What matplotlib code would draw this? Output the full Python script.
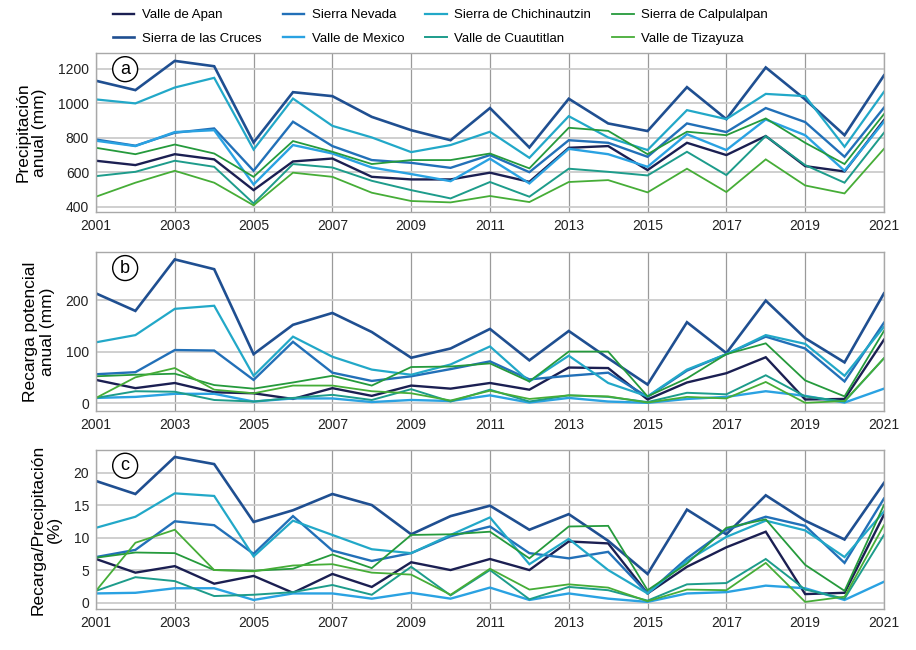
import matplotlib
matplotlib.use("Agg")
import matplotlib.pyplot as plt

plt.rcParams["font.family"] = ["Liberation Sans", "DejaVu Sans"]

# ---------------------------------------------------------------------------
# Data
# ---------------------------------------------------------------------------
years = list(range(2001, 2022))

# (a) Precipitacion anual [mm]
apan_prec = [666, 641, 704, 674, 496, 662, 679, 573, 558, 558, 597, 544, 741, 751, 612, 770, 699, 809, 635, 604, 901]
cruces_prec = [1129, 1075, 1244, 1213, 772, 1063, 1040, 920, 843, 785, 971, 743, 1025, 882, 838, 1092, 907, 1206, 1021, 814, 1160]
nevada_prec = [789, 753, 828, 853, 608, 892, 751, 670, 654, 625, 699, 600, 785, 770, 689, 882, 832, 971, 890, 689, 973]
mexico_prec = [782, 751, 832, 843, 529, 757, 708, 627, 589, 548, 678, 535, 735, 704, 631, 820, 728, 905, 814, 608, 892]
chich_prec = [1021, 998, 1090, 1146, 731, 1026, 868, 801, 716, 757, 834, 683, 924, 801, 728, 959, 907, 1053, 1040, 747, 1065]
cuaut_prec = [577, 602, 666, 631, 419, 647, 627, 550, 496, 448, 543, 458, 620, 602, 581, 718, 583, 809, 641, 539, 828]
calp_prec = [741, 704, 760, 708, 573, 780, 718, 647, 670, 670, 708, 622, 857, 839, 704, 834, 814, 911, 770, 647, 936]
tiz_prec = [458, 539, 608, 539, 408, 597, 573, 481, 433, 425, 462, 427, 543, 554, 483, 620, 485, 674, 523, 477, 735]

# (b) Recarga potencial anual [mm]
apan_rec = [45, 29, 39, 21, 19, 8, 29, 14, 34, 28, 39, 26, 69, 68, 7, 40, 58, 89, 7, 8, 123]
cruces_rec = [213, 179, 279, 260, 95, 152, 175, 138, 88, 106, 144, 83, 140, 87, 36, 157, 97, 199, 126, 79, 213]
nevada_rec = [56, 60, 103, 102, 45, 119, 59, 43, 52, 66, 81, 46, 53, 59, 12, 63, 95, 129, 106, 42, 156]
mexico_rec = [10, 12, 18, 18, 3, 9, 9, 2, 6, 4, 15, 1, 10, 3, 0.5, 8, 12, 23, 14, 1, 28]
chich_rec = [118, 132, 183, 189, 53, 129, 90, 65, 55, 75, 110, 42, 92, 39, 13, 65, 95, 132, 115, 53, 148]
cuaut_rec = [10, 23, 22, 6, 3, 10, 16, 6, 27, 3, 26, 3, 15, 12, 2, 20, 17, 54, 13, 3, 87]
calp_rec = [52, 55, 57, 35, 28, 40, 53, 34, 70, 71, 77, 42, 100, 100, 13, 48, 95, 116, 44, 13, 140]
tiz_rec = [10, 50, 68, 26, 19, 34, 34, 23, 19, 5, 24, 8, 15, 13, 1, 12, 9, 41, 0.5, 4, 87]

# (c) Recarga/Precipitacion [%]
apan_pct = [6.7, 4.6, 5.6, 2.9, 4.1, 1.5, 4.4, 2.4, 6.2, 5.0, 6.7, 5.0, 9.4, 9.1, 1.4, 5.5, 8.5, 10.9, 1.3, 1.5, 13.5]
cruces_pct = [18.7, 16.7, 22.4, 21.3, 12.4, 14.2, 16.7, 15.0, 10.5, 13.3, 14.9, 11.2, 13.6, 9.5, 4.4, 14.3, 10.5, 16.5, 12.6, 9.7, 18.4]
nevada_pct = [7.0, 8.1, 12.5, 11.9, 7.5, 13.3, 8.0, 6.4, 7.6, 10.2, 11.7, 7.6, 6.8, 7.8, 1.4, 6.8, 11.2, 13.2, 11.8, 6.1, 16.0]
mexico_pct = [1.4, 1.5, 2.2, 2.2, 0.4, 1.4, 1.4, 0.6, 1.5, 0.6, 2.3, 0.4, 1.4, 0.6, 0.1, 1.4, 1.6, 2.6, 2.2, 0.4, 3.2]
chich_pct = [11.5, 13.2, 16.8, 16.4, 7.1, 12.6, 10.4, 8.2, 7.6, 10.4, 13.1, 5.9, 9.8, 5.0, 1.4, 6.4, 10.1, 12.6, 11.1, 7.0, 14.0]
cuaut_pct = [1.8, 3.9, 3.3, 1.0, 1.2, 1.6, 2.7, 1.2, 5.5, 1.1, 5.0, 0.5, 2.4, 1.9, 0.3, 2.8, 3.0, 6.7, 2.0, 0.6, 10.4]
calp_pct = [6.9, 7.7, 7.6, 5.0, 4.9, 5.2, 7.4, 5.3, 10.4, 10.5, 10.9, 6.8, 11.7, 11.8, 1.9, 6.0, 11.5, 12.8, 5.8, 1.8, 15.0]
tiz_pct = [1.8, 9.2, 11.2, 5.0, 4.8, 5.7, 5.9, 4.6, 4.3, 1.2, 5.2, 2.0, 2.8, 2.3, 0.2, 2.0, 1.9, 6.1, 0.1, 0.9, 11.9]

names = ["Valle de Apan", "Sierra de las Cruces", "Sierra Nevada", "Valle de Mexico",
         "Sierra de Chichinautzin", "Valle de Cuautitlan", "Sierra de Calpulalpan",
         "Valle de Tizayuza"]
colors = ["#1b1f52", "#1f4f91", "#2270b8", "#2aa2e2", "#22a8c8", "#1d9c8b", "#259a3c", "#46ad37"]
widths = [1.7, 1.9, 1.7, 1.7, 1.6, 1.4, 1.3, 1.3]

panels = [
    ([apan_prec, cruces_prec, nevada_prec, mexico_prec, chich_prec, cuaut_prec, calp_prec, tiz_prec],
     "Precipitación\nanual (mm)", (370, 1288), [400, 600, 800, 1000, 1200], "a"),
    ([apan_rec, cruces_rec, nevada_rec, mexico_rec, chich_rec, cuaut_rec, calp_rec, tiz_rec],
     "Recarga potencial\nanual (mm)", (-15, 293), [0, 100, 200], "b"),
    ([apan_pct, cruces_pct, nevada_pct, mexico_pct, chich_pct, cuaut_pct, calp_pct, tiz_pct],
     "Recarga/Precipitación\n(%)", (-1, 23.5), [0, 5, 10, 15, 20], "c"),
]

# ---------------------------------------------------------------------------
# Figure
# ---------------------------------------------------------------------------
fig = plt.figure(figsize=(9.16, 6.5), dpi=100)
boxes = [(0.918, 0.674), (0.612, 0.368), (0.308, 0.063)]
left, right = 0.1048, 0.965

for (series, ylabel, ylim, yticks, tag), (top, bottom) in zip(panels, boxes):
    ax = fig.add_axes([left, bottom, right - left, top - bottom])
    for vals, name, col, lw in zip(series, names, colors, widths):
        ax.plot(years, vals, color=col, lw=lw, label=name, solid_joinstyle="miter")
    ax.set_xlim(2001, 2021)
    ax.set_ylim(*ylim)
    ax.set_xticks(range(2001, 2022, 2))
    ax.set_yticks(yticks)
    ax.tick_params(length=0, labelsize=10, pad=5, colors="#222222")
    ax.set_ylabel(ylabel, fontsize=12.5, linespacing=1.15, labelpad=8)
    ax.grid(True, axis="x", color="#9a9a9a", lw=0.9)
    ax.grid(True, axis="y", color="#cccccc", lw=1.3)
    ax.set_axisbelow(True)
    for sp in ax.spines.values():
        sp.set_color("#a8a8a8")
        sp.set_linewidth(1.0)
    ax.text(0.037, 0.90, tag, transform=ax.transAxes, fontsize=13,
            ha="center", va="center",
            bbox=dict(boxstyle="circle,pad=0.22", fc="white", ec="black", lw=1.0))
    if tag == "a":
        handles, labels = ax.get_legend_handles_labels()

fig.legend(handles, labels, ncol=4, loc="upper left",
           bbox_to_anchor=(113 / 916, 1 - 9 / 650),
           frameon=False, borderpad=0, borderaxespad=0, fontsize=9.5,
           handlelength=1.6, columnspacing=1.6, handletextpad=0.6, labelspacing=0.85)

fig.savefig("out.png", dpi=100)
